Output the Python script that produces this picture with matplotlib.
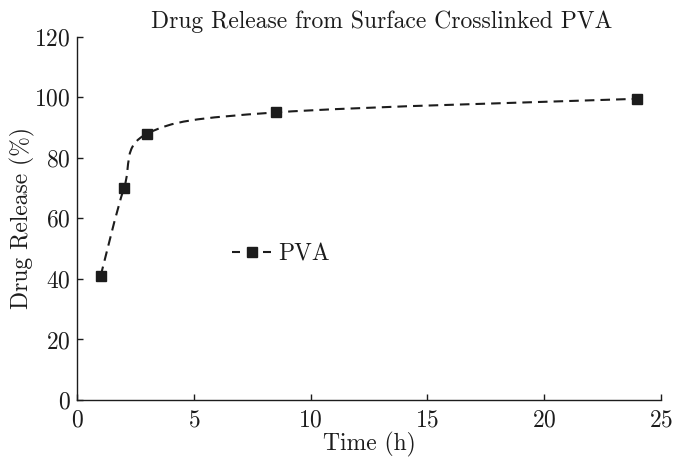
import matplotlib
matplotlib.use("Agg")
import matplotlib.pyplot as plt
from matplotlib.path import Path
from matplotlib.patches import PathPatch
from matplotlib.lines import Line2D

plt.rcParams["font.family"] = ["cmr10", "DejaVu Serif"]
plt.rcParams["axes.formatter.use_mathtext"] = True
plt.rcParams["mathtext.fontset"] = "cm"

# data
time_h = [1, 2, 3, 8.5, 24]
release = [41, 70, 88, 95, 99.5]

ink = "#1c1c1c"
fs = 17

fig = plt.figure(figsize=(6.74, 4.58), dpi=100)
ax = fig.add_axes([0.1147, 0.1266, 0.8657, 0.7932])

# smooth (Catmull-Rom) curve through the points, drawn as a bezier path
pts = list(zip(time_h, release))
verts = [pts[0]]
codes = [Path.MOVETO]
n = len(pts)
for i in range(n - 1):
    p0 = pts[i - 1] if i > 0 else pts[i]
    p1 = pts[i]
    p2 = pts[i + 1]
    p3 = pts[i + 2] if i + 2 < n else pts[i + 1]
    c1 = (p1[0] + (p2[0] - p0[0]) / 6, p1[1] + (p2[1] - p0[1]) / 6)
    c2 = (p2[0] - (p3[0] - p1[0]) / 6, p2[1] - (p3[1] - p1[1]) / 6)
    verts += [c1, c2, p2]
    codes += [Path.CURVE4] * 3
curve = PathPatch(Path(verts, codes), fill=False, edgecolor=ink,
                  linewidth=1.5, linestyle=(0, (4.6, 2.9)))
ax.add_patch(curve)

ax.plot(time_h, release, linestyle="none", marker="s", markersize=6.5,
        color=ink)

# legend handle: dash - gap - marker - gap - dash
handle = Line2D([], [], color=ink, linewidth=1.5,
                linestyle=(0, (3.84, 3.36, 4.32, 3.36, 3.84, 5)),
                marker="s", markersize=6.5)
ax.legend([handle], ["PVA"], loc="center left", bbox_to_anchor=(0.265, 0.402),
          frameon=False, fontsize=fs, handlelength=1.69, handletextpad=0.25,
          borderpad=0, borderaxespad=0, labelcolor=ink)

ax.set_xlim(0, 25)
ax.set_ylim(0, 120)
ax.set_xticks([0, 5, 10, 15, 20, 25])
ax.set_yticks([0, 20, 40, 60, 80, 100, 120])
ax.spines["top"].set_visible(False)
ax.spines["right"].set_visible(False)
for s in ("left", "bottom"):
    ax.spines[s].set_color(ink)
    ax.spines[s].set_linewidth(1.0)
ax.tick_params(direction="in", length=4, width=1.0, colors=ink,
               labelsize=fs)
ax.tick_params(axis="x", pad=7)
ax.tick_params(axis="y", pad=5)
ax.set_xlabel("Time (h)", fontsize=fs, labelpad=0, color=ink)
ax.set_ylabel("Drug Release (%)", fontsize=fs, labelpad=-1, color=ink)
ax.set_title("Drug Release from Surface Crosslinked PVA", fontsize=fs,
             x=0.521, pad=6, color=ink)

fig.savefig("out.png", dpi=100)
